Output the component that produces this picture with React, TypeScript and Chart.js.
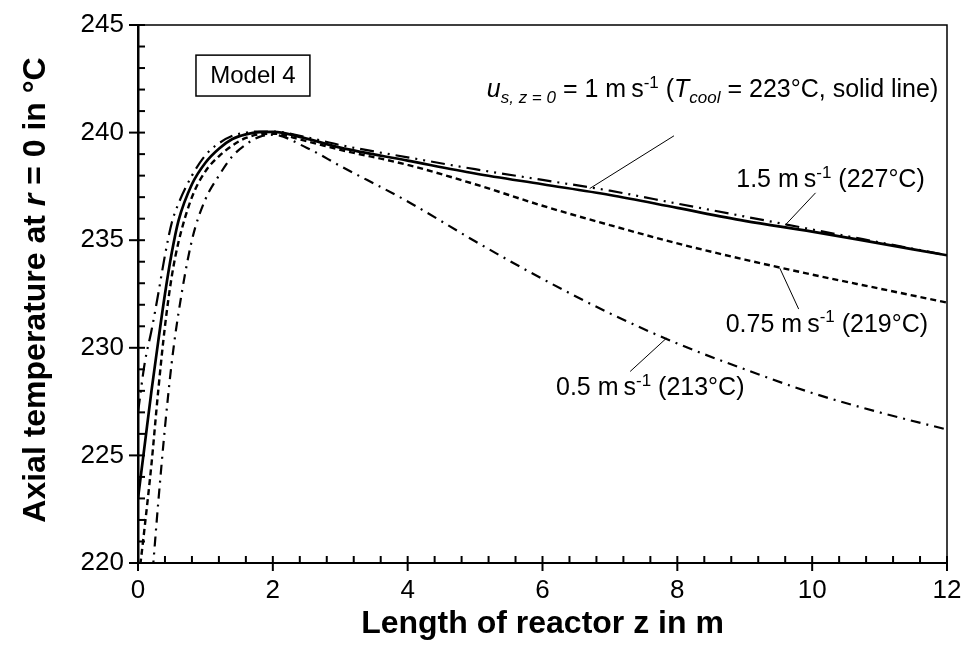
import React, { useEffect, useRef } from "react";
import { Chart, registerables } from "chart.js";
Chart.register(...registerables);

// Reactor length positions (m)
const zPoints = [0, 0.1, 0.2, 0.3, 0.4, 0.5, 0.6, 0.8, 1.0, 1.2, 1.4, 1.6, 1.8, 2.0, 2.5, 3, 4, 5, 6, 7, 8, 9, 10, 11, 12];
// Axial temperature at r = 0 (°C)
const tU1 = [223.0, 225.5, 228.0, 230.3, 232.5, 234.4, 235.9, 237.6, 238.6, 239.25, 239.7, 239.92, 240.02, 240.03, 239.72, 239.3, 238.7, 238.1, 237.6, 237.1, 236.5, 235.9, 235.4, 234.85, 234.3];
const tU15 = [227.0, 229.3, 230.8, 232.5, 234.3, 235.8, 236.7, 238.0, 238.95, 239.5, 239.85, 240.0, 240.05, 240.05, 239.78, 239.42, 238.85, 238.3, 237.8, 237.3, 236.7, 236.1, 235.5, 234.9, 234.3];
const tU075 = [219.0, 221.7, 224.6, 228.0, 231.0, 233.3, 234.9, 237.0, 238.2, 238.9, 239.4, 239.75, 239.92, 239.95, 239.6, 239.2, 238.5, 237.6, 236.6, 235.7, 234.85, 234.1, 233.4, 232.75, 232.1];
const tU05 = [213.0, 215.8, 219.0, 222.8, 226.3, 229.3, 231.6, 235.0, 236.9, 238.0, 238.9, 239.45, 239.8, 239.9, 239.3, 238.45, 236.8, 234.95, 233.2, 231.6, 230.2, 229.0, 227.9, 227.0, 226.2];

const xTicks = [0, 2, 4, 6, 8, 10, 12];
const yTicks = [220, 225, 230, 235, 240, 245];

const FONT = '"Liberation Sans", Arial, Helvetica, sans-serif';

type Seg = { t: string; it?: boolean; sub?: boolean; sup?: boolean };

const labelTop: Seg[] = [
  { t: "u", it: true },
  { t: "s, z = 0", it: true, sub: true },
  { t: " = 1 m\u2009s" },
  { t: "-1", sup: true },
  { t: " (" },
  { t: "T", it: true },
  { t: "cool", it: true, sub: true },
  { t: " = 223°C, solid line)" },
];
const label15: Seg[] = [{ t: "1.5 m\u2009s" }, { t: "-1", sup: true }, { t: " (227°C)" }];
const label075: Seg[] = [{ t: "0.75 m\u2009s" }, { t: "-1", sup: true }, { t: " (219°C)" }];
const label05: Seg[] = [{ t: "0.5 m\u2009s" }, { t: "-1", sup: true }, { t: " (213°C)" }];
const yTitle: Seg[] = [{ t: "Axial temperature at " }, { t: "r", it: true }, { t: " = 0 in °C" }];
const xTitle: Seg[] = [{ t: "Length of reactor " }, { t: "z" }, { t: " in m" }];

// annotations in data coordinates
const notes = [
  { segs: labelTop, x: 11.87, y: 241.65, align: "right", line: [7.95, 239.85, 6.7, 237.4] },
  { segs: label15, x: 11.67, y: 237.45, align: "right", line: [10.05, 237.2, 9.6, 235.7] },
  { segs: label075, x: 11.72, y: 230.75, align: "right", line: [9.52, 233.7, 9.8, 231.8] },
  { segs: label05, x: 6.2, y: 227.8, align: "left", line: [7.84, 230.45, 7.3, 228.9] },
];
const modelBox = { text: "Model 4", x0: 0.86, y0: 243.6, x1: 2.55, y1: 241.7 };

function segFont(s: Seg, size: number, bold: boolean) {
  const sz = s.sub || s.sup ? Math.round(size * 0.68) : size;
  return `${s.it ? "italic " : ""}${bold ? "bold " : ""}${sz}px ${FONT}`;
}
function richWidth(ctx: CanvasRenderingContext2D, segs: Seg[], size: number, bold: boolean) {
  let w = 0;
  for (const s of segs) {
    ctx.font = segFont(s, size, bold);
    w += ctx.measureText(s.t).width;
  }
  return w;
}
function drawRich(ctx: CanvasRenderingContext2D, segs: Seg[], x: number, y: number, size: number, bold: boolean, align: string) {
  const w = richWidth(ctx, segs, size, bold);
  let cx = align === "right" ? x - w : align === "center" ? x - w / 2 : x;
  ctx.textBaseline = "alphabetic";
  ctx.textAlign = "left";
  for (const s of segs) {
    ctx.font = segFont(s, size, bold);
    const dy = s.sub ? size * 0.25 : s.sup ? -size * 0.38 : 0;
    ctx.fillText(s.t, cx, y + dy);
    cx += ctx.measureText(s.t).width;
  }
}

const decorPlugin = {
  id: "decor",
  afterDraw(chart: any) {
    const ctx: CanvasRenderingContext2D = chart.ctx;
    const xs = chart.scales.x;
    const ys = chart.scales.y;
    const a = chart.chartArea;
    ctx.save();
    ctx.strokeStyle = "#000";
    ctx.fillStyle = "#000";
    // frame top/right
    ctx.lineWidth = 1.5;
    ctx.beginPath();
    ctx.moveTo(a.left - 9, a.top);
    ctx.lineTo(a.right, a.top);
    ctx.lineTo(a.right, a.bottom);
    ctx.stroke();
    // y ticks
    ctx.lineWidth = 2;
    for (let v = 220; v <= 245; v += 1) {
      const p = ys.getPixelForValue(v);
      const major = v % 5 === 0;
      ctx.beginPath();
      ctx.moveTo(major ? a.left - 9 : a.left, p);
      ctx.lineTo(a.left + 7, p);
      ctx.stroke();
    }
    // x ticks
    for (let i = 0; i <= 30; i++) {
      const v = i * 0.4;
      const p = xs.getPixelForValue(v);
      const major = i % 5 === 0;
      ctx.beginPath();
      ctx.moveTo(p, major ? a.bottom + 8 : a.bottom);
      ctx.lineTo(p, a.bottom - 7);
      ctx.stroke();
    }
    // annotations
    ctx.lineWidth = 1;
    for (const n of notes) {
      const [x0, y0, x1, y1] = n.line;
      ctx.beginPath();
      ctx.moveTo(xs.getPixelForValue(x0), ys.getPixelForValue(y0));
      ctx.lineTo(xs.getPixelForValue(x1), ys.getPixelForValue(y1));
      ctx.stroke();
      drawRich(ctx, n.segs, xs.getPixelForValue(n.x), ys.getPixelForValue(n.y), 25, false, n.align);
    }
    // model box
    const bx0 = xs.getPixelForValue(modelBox.x0);
    const bx1 = xs.getPixelForValue(modelBox.x1);
    const by0 = ys.getPixelForValue(modelBox.y0);
    const by1 = ys.getPixelForValue(modelBox.y1);
    ctx.lineWidth = 1.5;
    ctx.strokeRect(bx0, by0, bx1 - bx0, by1 - by0);
    ctx.font = `24px ${FONT}`;
    ctx.textAlign = "center";
    ctx.textBaseline = "middle";
    ctx.fillText(modelBox.text, (bx0 + bx1) / 2, (by0 + by1) / 2 + 1);
    // axis titles
    drawRich(ctx, xTitle, (a.left + a.right) / 2, 633, 32, true, "center");
    ctx.save();
    ctx.translate(45, 290);
    ctx.rotate(-Math.PI / 2);
    drawRich(ctx, yTitle, 0, 0, 32, true, "center");
    ctx.restore();
    ctx.restore();
  },
};

export default function App() {
  const ref = useRef<HTMLCanvasElement | null>(null);
  useEffect(() => {
    document.body.style.margin = "0";
    const canvas = ref.current!;
    const mk = (label: string, data: number[], dash: number[], width: number) => ({
      label,
      data: zPoints.map((z, i) => ({ x: z, y: data[i] })),
      borderColor: "#000",
      backgroundColor: "#000",
      borderWidth: width,
      borderDash: dash,
      pointRadius: 0,
      fill: false,
      cubicInterpolationMode: "monotone" as const,
    });
    const chart = new Chart(canvas, {
      type: "line",
      data: {
        datasets: [
          mk("0.5 m/s", tU05, [10, 6, 2, 6], 2.2),
          mk("0.75 m/s", tU075, [6, 4], 2.4),
          mk("1.5 m/s", tU15, [14, 6, 2, 6, 2, 6], 2.2),
          mk("1 m/s", tU1, [], 2.7),
        ],
      },
      options: {
        responsive: false,
        animation: false,
        events: [],
        layout: { padding: { top: 25, right: 26, left: 0, bottom: 0 } },
        plugins: { legend: { display: false }, title: { display: false }, tooltip: { enabled: false } },
        scales: {
          x: {
            type: "linear",
            min: 0,
            max: 12,
            afterFit: (s: any) => { s.height = 89; s.paddingLeft = 0; s.paddingRight = 0; },
            afterBuildTicks: (s: any) => { s.ticks = xTicks.map((v) => ({ value: v })); },
            grid: { display: false },
            border: { display: true, color: "#000", width: 2 },
            ticks: { color: "#000", font: { family: FONT, size: 26 }, padding: 4, maxRotation: 0 },
          },
          y: {
            type: "linear",
            min: 220,
            max: 245,
            afterFit: (s: any) => { s.width = 138; s.paddingTop = 0; s.paddingBottom = 0; },
            afterBuildTicks: (s: any) => { s.ticks = yTicks.map((v) => ({ value: v })); },
            grid: { display: false },
            border: { display: true, color: "#000", width: 2.5 },
            ticks: { color: "#000", font: { family: FONT, size: 26 }, padding: 6 },
          },
        },
      },
      plugins: [decorPlugin],
    });
    return () => chart.destroy();
  }, []);
  return (
    <div style={{ width: 973, height: 652, background: "#fff" }}>
      <canvas ref={ref} width={973} height={652} style={{ display: "block" }} />
    </div>
  );
}
